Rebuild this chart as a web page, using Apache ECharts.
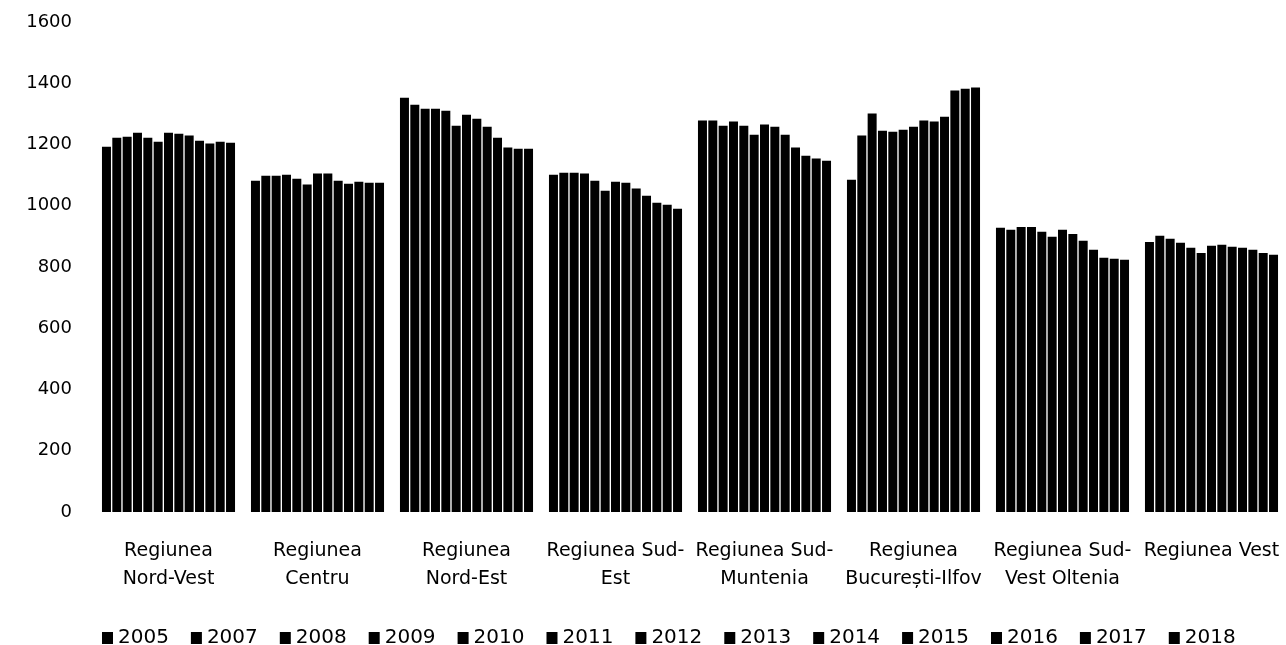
<!DOCTYPE html>
<html>
<head>
<meta charset="utf-8">
<script src="https://cdn.jsdelivr.net/npm/echarts@6/dist/echarts.min.js"></script>
<style>
html,body{margin:0;padding:0;background:#fff;}
#chart{width:1286px;height:645px;}
</style>
</head>
<body>
<div id="chart"></div>
<script>
var categories = ["Regiunea\nNord-Vest", "Regiunea\nCentru", "Regiunea\nNord-Est", "Regiunea Sud-\nEst", "Regiunea Sud-\nMuntenia", "Regiunea\nBucurești-Ilfov", "Regiunea Sud-\nVest Oltenia", "Regiunea Vest"];
var years = ["2005", "2007", "2008", "2009", "2010", "2011", "2012", "2013", "2014", "2015", "2016", "2017", "2018"];
var yTicks = [0, 200, 400, 600, 800, 1000, 1200, 1400, 1600];

// values per region, one per year (2005, 2007..2018)
var nordVest      = [1193, 1222, 1225, 1238, 1222, 1209, 1238, 1235, 1229, 1212, 1203, 1209, 1206];
var centru        = [1082, 1098, 1098, 1101, 1088, 1069, 1105, 1105, 1082, 1072, 1078, 1075, 1075];
var nordEst       = [1353, 1330, 1317, 1317, 1310, 1261, 1297, 1284, 1258, 1222, 1190, 1186, 1186];
var sudEst        = [1101, 1108, 1108, 1105, 1082, 1049, 1078, 1075, 1056, 1033, 1010, 1003, 990];
var sudMuntenia   = [1278, 1278, 1261, 1275, 1261, 1232, 1265, 1258, 1232, 1190, 1163, 1154, 1147];
var bucurestiIlfov= [1085, 1229, 1301, 1245, 1242, 1248, 1258, 1278, 1275, 1291, 1376, 1382, 1386];
var sudVestOltenia= [928, 922, 931, 931, 915, 899, 922, 908, 886, 856, 830, 827, 824];
var vest          = [882, 902, 892, 879, 863, 846, 869, 873, 866, 863, 856, 846, 840];

var regions = [nordVest, centru, nordEst, sudEst, sudMuntenia, bucurestiIlfov, sudVestOltenia, vest];

var FONT = "DejaVu Sans";
var series = years.map(function (y, i) {
  return {
    name: y,
    type: 'bar',
    barCategoryGap: '10.7%',
    barGap: '15%',
    itemStyle: { color: '#000000' },
    data: regions.map(function (r) { return r[i]; })
  };
});

var chart = echarts.init(document.getElementById('chart'));
chart.setOption({
  animation: false,
  backgroundColor: '#ffffff',
  textStyle: { fontFamily: FONT, color: '#000' },
  grid: { left: 94, top: 22, width: 1198, bottom: 133, containLabel: false },
  legend: {
    data: years,
    left: 97,
    top: 623,
    icon: 'rect',
    itemWidth: 11,
    itemHeight: 12,
    itemGap: 22,
    textStyle: { fontFamily: FONT, fontSize: 20, color: '#000' }
  },
  xAxis: {
    type: 'category',
    data: categories,
    axisLine: { show: false },
    axisTick: { show: false },
    axisLabel: {
      interval: 0,
      margin: 25,
      fontFamily: FONT,
      fontSize: 19,
      lineHeight: 28,
      color: '#000'
    }
  },
  yAxis: {
    type: 'value',
    min: yTicks[0],
    max: yTicks[yTicks.length - 1],
    interval: yTicks[1] - yTicks[0],
    axisLine: { show: false },
    axisTick: { show: false },
    splitLine: { show: false },
    axisLabel: {
      margin: 22, fontFamily: FONT, fontSize: 18, color: '#000',
      formatter: function (v) { return String(v); }
    }
  },
  series: series
});
</script>
</body>
</html>
